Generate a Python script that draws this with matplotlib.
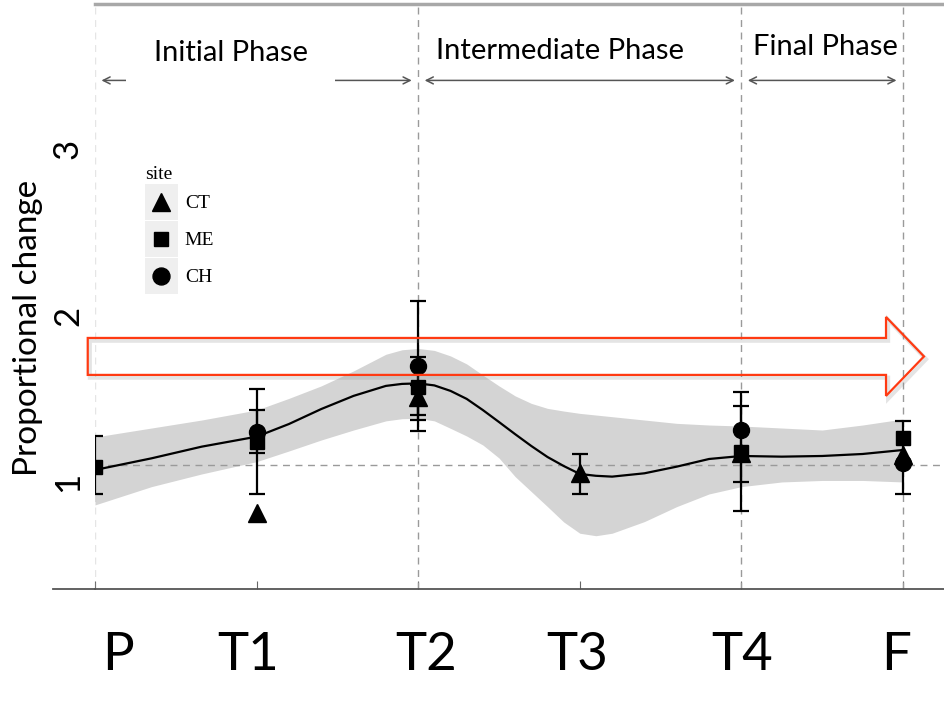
import numpy as np
import matplotlib
matplotlib.use('Agg')
import matplotlib.pyplot as plt
import matplotlib.patheffects as pe
from matplotlib.patches import FancyArrow, Patch
from matplotlib.lines import Line2D
from matplotlib.legend_handler import HandlerLine2D
from matplotlib.transforms import ScaledTranslation

# sampling times
stages = ['P', 'T1', 'T2', 'T3', 'T4', 'F']
stage_x = [0, 1, 2, 3, 4, 5]

# per-site means and error bar ends (nan = not drawn)
nan = np.nan
ct_mean = [nan, 0.83, 1.53, 1.074, 1.19, 1.18]
ct_lo = [nan, nan, 1.39, 0.946, nan, 0.946]
ct_hi = [nan, nan, 1.60, 1.186, nan, 1.384]
me_mean = [1.108, 1.26, 1.59, nan, 1.20, 1.28]
me_lo = [0.946, 0.946, 1.326, nan, 0.844, nan]
me_hi = [1.294, 1.577, 2.105, nan, 1.56, nan]
ch_mean = [nan, 1.32, 1.715, nan, 1.33, 1.134]
ch_lo = [nan, 1.19, 1.42, nan, 1.02, nan]
ch_hi = [nan, 1.45, 1.767, nan, 1.476, nan]

# smoothed trend and its confidence band
smooth_x = [0, 0.35, 0.66, 1.0, 1.2, 1.4, 1.6, 1.8, 1.9, 2.0, 2.1, 2.2, 2.3,
            2.4, 2.5, 2.6, 2.7, 2.8, 2.9, 3.0, 3.1, 3.2, 3.4, 3.6, 3.8, 4.0,
            4.25, 4.5, 4.75, 5.0]
smooth_y = [1.09, 1.16, 1.23, 1.29, 1.366, 1.456, 1.535, 1.595, 1.607, 1.61,
            1.598, 1.565, 1.517, 1.45, 1.378, 1.305, 1.234, 1.168, 1.114,
            1.066, 1.055, 1.05, 1.07, 1.11, 1.156, 1.174, 1.17, 1.174, 1.186,
            1.21]
band_hi = [1.288, 1.342, 1.39, 1.45, 1.52, 1.595, 1.685, 1.785, 1.812, 1.82,
           1.808, 1.775, 1.727, 1.66, 1.595, 1.535, 1.49, 1.46, 1.444, 1.43,
           1.42, 1.41, 1.39, 1.37, 1.36, 1.354, 1.342, 1.33, 1.36, 1.396]
band_lo = [0.88, 0.99, 1.066, 1.14, 1.204, 1.27, 1.33, 1.385, 1.398, 1.40,
           1.385, 1.34, 1.294, 1.24, 1.162, 1.05, 0.96, 0.87, 0.778, 0.71,
           0.695, 0.71, 0.78, 0.87, 0.946, 0.99, 1.018, 1.027, 1.027, 1.018]

baseline = 1.12
phase_names = ['Initial Phase', 'Intermediate Phase', 'Final Phase']
phase_bounds = [0, 2, 4, 5]

SANS = 'Lato'
SERIF = 'Liberation Serif'


class CenteredMarker(HandlerLine2D):
    # put the key marker in the middle of the grey key box
    def create_artists(self, legend, orig_handle, xdescent, ydescent,
                       width, height, fontsize, trans):
        return super().create_artists(legend, orig_handle, xdescent,
                                      2 * ydescent, width, height,
                                      fontsize, trans)


fig = plt.figure(figsize=(9.45, 7.25), dpi=100)
ax = fig.add_axes([95 / 945, 1 - 589 / 725, 850 / 945, 585 / 725])
ax.set_xlim(0, 5.26)
ax.set_ylim(0.375, 3.889)

# band + trend
ax.fill_between(smooth_x, band_lo, band_hi, color='#d4d4d4', lw=0, zorder=1)
ax.axhline(baseline, color='#9a9a9a', lw=1, ls=(0, (5, 4)), zorder=2)
for i, b in enumerate(phase_bounds):
    ax.axvline(b, color='#9a9a9a', lw=1, ls=(0, (5, 4)),
               alpha=0.25 if i == 0 else 1, zorder=2)
ax.plot(smooth_x, smooth_y, color='black', lw=1.6, zorder=3,
        solid_joinstyle='round')

# sites
sites = [('CT', '^', 12.5, ct_mean, ct_lo, ct_hi),
         ('ME', 's', 10, me_mean, me_lo, me_hi),
         ('CH', 'o', 11.5, ch_mean, ch_lo, ch_hi)]
handles = []
for name, mk, ms, mean, lo, hi in sites:
    x = np.array(stage_x, float)
    m = np.array(mean)
    l = np.array(lo)
    h = np.array(hi)
    ok = np.isfinite(l)
    ax.errorbar(x[ok], m[ok], yerr=[m[ok] - l[ok], h[ok] - m[ok]], fmt='none',
                ecolor='black', elinewidth=1.6, capsize=6, capthick=1.6, zorder=4)
    ax.plot(x, m, ls='none', marker=mk, ms=ms, color='black', zorder=5)
    key = Patch(facecolor='#efefef', edgecolor='none')
    dot = Line2D([], [], ls='none', marker=mk, ms=ms + 0.7, color='black')
    handles.append(((key, dot), name))

leg = ax.legend([h for h, _ in handles], [n for _, n in handles], title='site',
                loc='upper left', bbox_to_anchor=(40 / 850, (589 - 156) / 585),
                frameon=False, borderpad=0, handlelength=1.7, handleheight=2.47,
                labelspacing=0.05, handletextpad=0.36, alignment='left',
                handler_map={Line2D: CenteredMarker()},
                prop={'family': SERIF, 'size': 14})
leg.get_title().set_fontfamily(SERIF)
leg.get_title().set_fontsize(14)

# phase arrows and labels
label_x = [0.84, 2.877, 4.52]
label_y = [53, 51, 47]
for i, name in enumerate(phase_names):
    x0, x1 = phase_bounds[i] + 0.04, phase_bounds[i + 1] - 0.04
    ax.annotate('', xy=(x1, 3.43), xytext=(x0, 3.43),
                arrowprops=dict(arrowstyle='<->,head_length=0.5,head_width=0.25',
                                color='#555555', lw=1.1, shrinkA=0, shrinkB=0),
                zorder=6)
    yv = 1 + (485 - label_y[i]) / 166.5
    kw = dict(boxstyle='square,pad=0.95', fc='white', ec='none') if i == 0 else None
    ax.text(label_x[i], yv, name, ha='center', va='center', fontsize=21,
            family=SANS, bbox=kw, zorder=7)

# red block arrow overlay
arr = FancyArrow(-0.045, 1.772, 5.175, 0, width=0.222, head_width=0.474,
                 head_length=0.235, length_includes_head=True, fill=False,
                 ec='#ff3a12', lw=1.6, clip_on=False, zorder=8,
                 path_effects=[pe.SimpleLineShadow(offset=(1.5, -2),
                                                   shadow_color='#888888',
                                                   alpha=0.22, linewidth=3),
                               pe.Normal()])
ax.add_patch(arr)

# axes styling
for s in ['left', 'right']:
    ax.spines[s].set_visible(False)
ax.spines['top'].set_color('#a8a8a8')
ax.spines['top'].set_linewidth(2.5)
ax.spines['bottom'].set_color('#555555')
ax.spines['bottom'].set_linewidth(1.3)
fig.add_artist(Line2D([53 / 945, 95 / 945], [1 - 589 / 725] * 2,
                      color='#555555', lw=1.3))

ax.set_xticks(stage_x)
ax.set_xticklabels(stages, fontsize=38, family=SANS)
ax.tick_params(axis='x', direction='in', length=6, color='#666666', pad=31)
shifts = [23, -8, 8, -3, 1, -7]
for lab, dx in zip(ax.get_xticklabels(), shifts):
    lab.set_transform(lab.get_transform() +
                      ScaledTranslation(dx / 100, 0, fig.dpi_scale_trans))

ax.set_yticks([1, 2, 3])
ax.set_yticklabels(['1', '2', '3'], fontsize=25, family=SANS, rotation=90)
ax.tick_params(axis='y', length=0, pad=8)

fig.text(28 / 945, 1 - 328 / 725, 'Proportional change', rotation=90,
         ha='center', va='center', fontsize=24, family=SANS)

plt.savefig('out.png', dpi=100)
plt.close()
